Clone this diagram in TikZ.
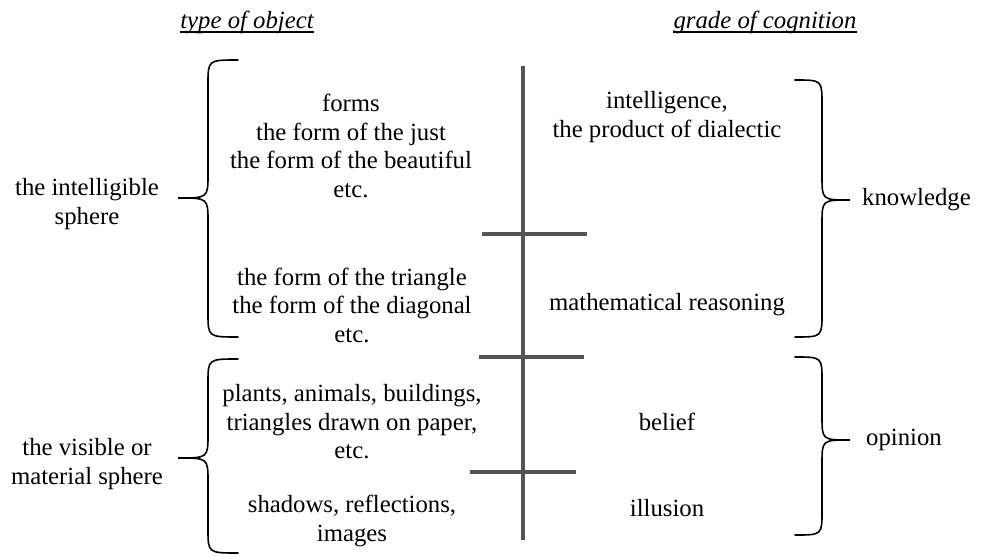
\documentclass[tikz,border=0pt]{standalone}
\usepackage{fontspec}
\setmainfont{Liberation Serif}[Ligatures=TeX]
\newfontfamily\tnr{Liberation Serif}[Ligatures=TeX, ItalicFont={Liberation Serif Italic}]
\newcommand{\mybrace}[6]{%
  \draw[bracestyle] (#1,#4) .. controls (#2,#4) .. (#2,{#4+24})
    -- (#2,{#5-24}) .. controls (#2,#5) .. (#3,#5)
    .. controls (#2,#5) .. (#2,{#5+24})
    -- (#2,{#6-24}) .. controls (#2,#6) .. (#1,#6);}
\begin{document}
\begin{tikzpicture}[x=1pt,y=-1pt,
  txt/.style={inner sep=0pt, align=center, font=\tnr\fontsize{24.75}{28.5}\selectfont},
  head/.style={inner sep=0pt, font=\tnr\itshape\fontsize{24.75}{28.5}\selectfont},
  bracestyle/.style={line width=1.6pt, black, line cap=round},
  divider/.style={line width=3.3pt, draw=black!67}]
\useasboundingbox (0,0) rectangle (987,556);
% headers
\node[head] (h1) at (247,22) {type of object};
\node[head] (h2) at (765,22) {grade of cognition};
\draw[line width=1.4pt] ([yshift=-4pt]h1.base west) -- ([yshift=-4pt]h1.base east);
\draw[line width=1.4pt] ([yshift=-4pt]h2.base west) -- ([yshift=-4pt]h2.base east);
% dividers
\coordinate (vt) at (523,66);
\coordinate (vb) at (523,540);
\coordinate (a1) at (482,234); \coordinate (b1) at (587,234);
\coordinate (a2) at (479,357); \coordinate (b2) at (584,357);
\coordinate (a3) at (470,472); \coordinate (b3) at (576,472);
\draw[divider] (vt) -- (vb);
\draw[divider] (a1) -- (b1);
\draw[divider] (a2) -- (b2);
\draw[divider] (a3) -- (b3);
% left column
\node[txt] (forms) at (351,146) {forms\\the form of the just\\the form of the beautiful\\etc.};
\node[txt] (math) at (352,305) {the form of the triangle\\the form of the diagonal\\etc.};
\node[txt] (plants) at (352,422) {plants, animals, buildings,\\triangles drawn on paper,\\etc.};
\node[txt] (shadows) at (352,521) {shadows, reflections,\\images};
% right column
\node[txt] (intel) at (667,117) {intelligence,\\the product of dialectic};
\node[txt] (reason) at (667,305) {mathematical reasoning};
\node[txt] (belief) at (667,422) {belief};
\node[txt] (illusion) at (667,508) {illusion};
% side labels
\node[txt] (intsph) at (87,204) {the intelligible\\sphere};
\node[txt] (vissph) at (87,464) {the visible or\\material sphere};
\node[txt, anchor=west] (know) at (862,200) {knowledge};
\node[txt, anchor=west] (opin) at (866,440) {opinion};
% braces
\mybrace{238}{208}{178}{60}{198}{337}
\mybrace{238}{208}{178}{359}{458}{553}
\mybrace{795}{822}{850}{80}{200}{337}
\mybrace{795}{822}{850}{357}{440}{535}
\end{tikzpicture}
\end{document}
